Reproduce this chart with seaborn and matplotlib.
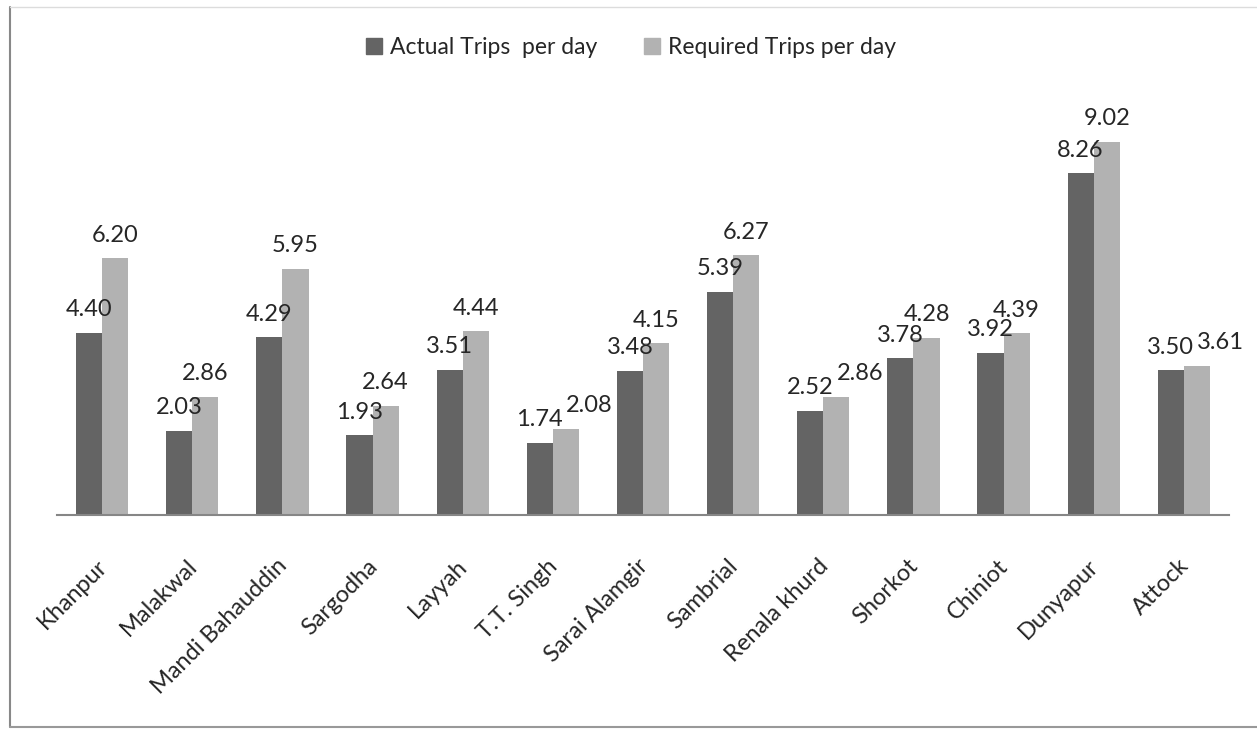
import matplotlib
matplotlib.use("Agg")
import matplotlib.pyplot as plt
import matplotlib.transforms as mtransforms
from matplotlib.lines import Line2D
import seaborn as sns
import pandas as pd

cities = ["Khanpur", "Malakwal", "Mandi Bahauddin", "Sargodha", "Layyah", "T.T. Singh",
          "Sarai Alamgir", "Sambrial", "Renala khurd", "Shorkot", "Chiniot", "Dunyapur", "Attock"]
actual = [4.40, 2.03, 4.29, 1.93, 3.51, 1.74, 3.48, 5.39, 2.52, 3.78, 3.92, 8.26, 3.50]
required = [6.20, 2.86, 5.95, 2.64, 4.44, 2.08, 4.15, 6.27, 2.86, 4.28, 4.39, 9.02, 3.61]
series = ["Actual Trips  per day", "Required Trips per day"]
colors = ["#646464", "#b2b2b2"]

df = pd.DataFrame({
    "city": cities * 2,
    "trips": actual + required,
    "series": [series[0]] * len(cities) + [series[1]] * len(cities),
})

sns.set_theme(style="white")
plt.rcParams["font.family"] = ["Lato", "DejaVu Sans"]

fig = plt.figure(figsize=(12.57, 7.29), dpi=100)
ax = fig.add_axes([0.0454, 0.2936, 0.9323, 0.5679])

sns.barplot(data=df, x="city", y="trips", hue="series", palette=colors,
            width=0.58, gap=0, saturation=1, linewidth=0, ax=ax, legend=False)

label_pad = 9
label_size = 17
label_sets = [ax.bar_label(cont, fmt="%.2f", padding=label_pad, fontsize=label_size)
              for cont in ax.containers]

ax.set_xlim(-0.5, len(cities) - 0.5)
ax.set_ylim(0, 10)
ax.set_xlabel("")
ax.set_ylabel("")
ax.set_yticks([])
for s in ["top", "right", "left"]:
    ax.spines[s].set_visible(False)
ax.spines["bottom"].set_color("#868686")
ax.spines["bottom"].set_linewidth(1.5)
ax.tick_params(axis="x", length=0, pad=29, labelsize=17)
shift = mtransforms.ScaledTranslation(-6 / 100, 0, fig.dpi_scale_trans)
for lab in ax.get_xticklabels():
    lab.set_rotation(45)
    lab.set_ha("right")
    lab.set_va("top")
    lab.set_rotation_mode("anchor")
    lab.set_transform(lab.get_transform() + shift)

handles = [plt.Rectangle((0, 0), 1, 1, color=c) for c in colors]
fig.legend(handles, series, loc="center", bbox_to_anchor=(0.502, 0.935), ncol=2,
           frameon=False, fontsize=16.5, handlelength=0.7, handleheight=0.7,
           handletextpad=0.35, columnspacing=2.0)

# push a "required" label to the right when it sits almost level with its "actual" neighbour
fig.canvas.draw()
renderer = fig.canvas.get_renderer()
px_to_pt = 72 / fig.dpi
size_px = label_size / px_to_pt
for left_lab, right_lab in zip(*label_sets):
    a = left_lab.get_window_extent(renderer)
    b = right_lab.get_window_extent(renderer)
    close_vertically = (b.y0 - a.y0) < 0.78 * size_px
    if close_vertically and a.x1 > b.x0:
        dx = (a.x1 - b.x0 + 3) * px_to_pt
        right_lab.xyann = (dx, label_pad)

# outer frame
fig.add_artist(Line2D([10 / 1257, 10 / 1257], [2 / 729, 722 / 729], color="#888888", lw=1.5))
fig.add_artist(Line2D([10 / 1257, 1], [2 / 729, 2 / 729], color="#999999", lw=1.5))
fig.add_artist(Line2D([10 / 1257, 1], [722 / 729, 722 / 729], color="#dcdcdc", lw=1.0))

fig.savefig("out.png", dpi=100, facecolor="white")
